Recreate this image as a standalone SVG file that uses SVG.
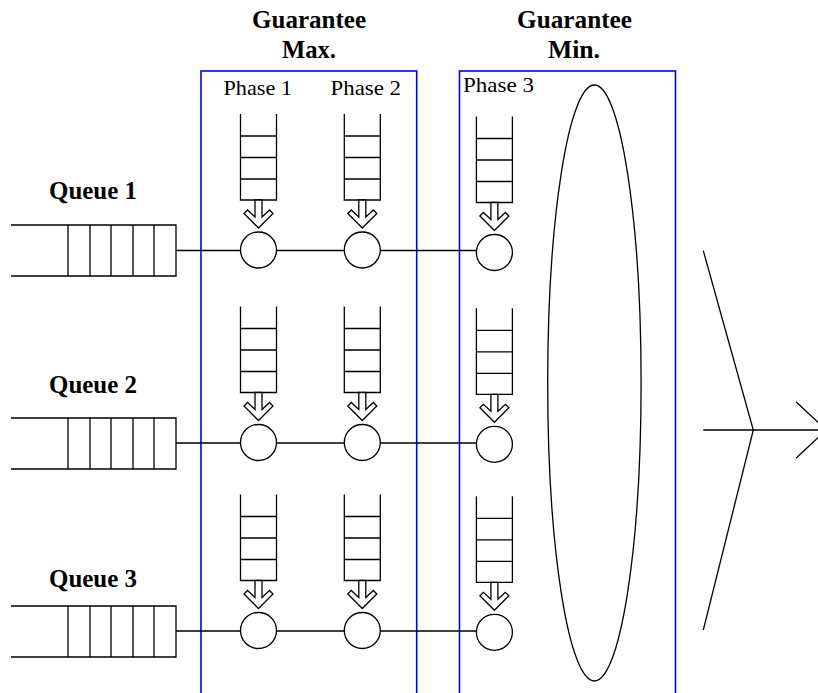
<svg xmlns="http://www.w3.org/2000/svg" xmlns:xlink="http://www.w3.org/1999/xlink" width="818" height="693" viewBox="0 0 818 693">
<style>
.ln{fill:none;stroke:#000;stroke-width:1.3}
.wf{fill:#fff;stroke:#000;stroke-width:1.3}
.box{fill:none;stroke:#0000ff;stroke-width:1.6}
.title{font-family:"Liberation Serif","Times New Roman",serif;font-weight:bold;font-size:24.5px;fill:#000}
.ph{font-family:"Liberation Serif","Times New Roman",serif;font-size:21px;fill:#000}
</style>
<defs>
<g id="srv">
<path class="ln" d="M-18,0 V86 H18 V0 M-18,22 H18 M-18,43.5 H18 M-18,65 H18"/>
<polygon class="wf" points="-3.5,86 3.5,86 3.5,103 11,96 14.5,99.5 0,114 -14.5,99.5 -11,96 -3.5,103"/>
<circle class="wf" cx="0" cy="136" r="18"/>
</g>
<g id="bigq">
<path class="ln" d="M11,0 H176 V51 H11 M68,0 V51 M90,0 V51 M111,0 V51 M133,0 V51 M154,0 V51"/>
</g>
</defs>
<rect width="818" height="693" fill="#fff"/>
<g id="headers">
<text class="title" x="252" y="28" textLength="114" lengthAdjust="spacingAndGlyphs">Guarantee</text>
<text class="title" x="282" y="58" textLength="54" lengthAdjust="spacingAndGlyphs">Max.</text>
<text class="title" x="517" y="28" textLength="115" lengthAdjust="spacingAndGlyphs">Guarantee</text>
<text class="title" x="548" y="58" textLength="52" lengthAdjust="spacingAndGlyphs">Min.</text>
</g>
<g id="box-max">
<rect class="box" x="201" y="71" width="215.7" height="640"/>
<text class="ph" x="223.5" y="95" textLength="68.5" lengthAdjust="spacingAndGlyphs">Phase 1</text>
<text class="ph" x="330.5" y="95" textLength="70.5" lengthAdjust="spacingAndGlyphs">Phase 2</text>
</g>
<g id="box-min">
<rect class="box" x="459.5" y="71" width="216" height="640"/>
<text class="ph" x="463" y="92" textLength="71" lengthAdjust="spacingAndGlyphs">Phase 3</text>
</g>
<g id="connectors">
<path class="ln" d="M176,250.5 H476 M176,443 H476 M176,631 H476"/>
<path class="ln" d="M703.3,250.7 L753.3,430 L703.3,630 M703.3,430 H826 M796,401.7 L826,430 L796,458.3"/>
</g>
<g id="queue1">
<text class="title" x="49" y="199" textLength="88" lengthAdjust="spacingAndGlyphs">Queue 1</text>
<use xlink:href="#bigq" href="#bigq" x="0" y="225"/>
</g>
<g id="queue2">
<text class="title" x="49" y="393" textLength="88" lengthAdjust="spacingAndGlyphs">Queue 2</text>
<use xlink:href="#bigq" href="#bigq" x="0" y="418"/>
</g>
<g id="queue3">
<text class="title" x="49" y="587" textLength="88" lengthAdjust="spacingAndGlyphs">Queue 3</text>
<use xlink:href="#bigq" href="#bigq" x="0" y="606"/>
</g>
<g id="r1p1"><use xlink:href="#srv" href="#srv" x="258.5" y="114"/></g>
<g id="r1p2"><use xlink:href="#srv" href="#srv" x="362.3" y="114"/></g>
<g id="r1p3"><use xlink:href="#srv" href="#srv" x="494.4" y="116.5"/></g>
<g id="r2p1"><use xlink:href="#srv" href="#srv" x="258.5" y="306.5"/></g>
<g id="r2p2"><use xlink:href="#srv" href="#srv" x="362.3" y="306.5"/></g>
<g id="r2p3"><use xlink:href="#srv" href="#srv" x="494.4" y="308.3"/></g>
<g id="r3p1"><use xlink:href="#srv" href="#srv" x="258.5" y="494.5"/></g>
<g id="r3p2"><use xlink:href="#srv" href="#srv" x="362.3" y="494.5"/></g>
<g id="r3p3"><use xlink:href="#srv" href="#srv" x="494.4" y="496.3"/></g>
<g id="aggregator">
<ellipse class="ln" cx="594.4" cy="383" rx="46.7" ry="298"/>
</g>
</svg>
